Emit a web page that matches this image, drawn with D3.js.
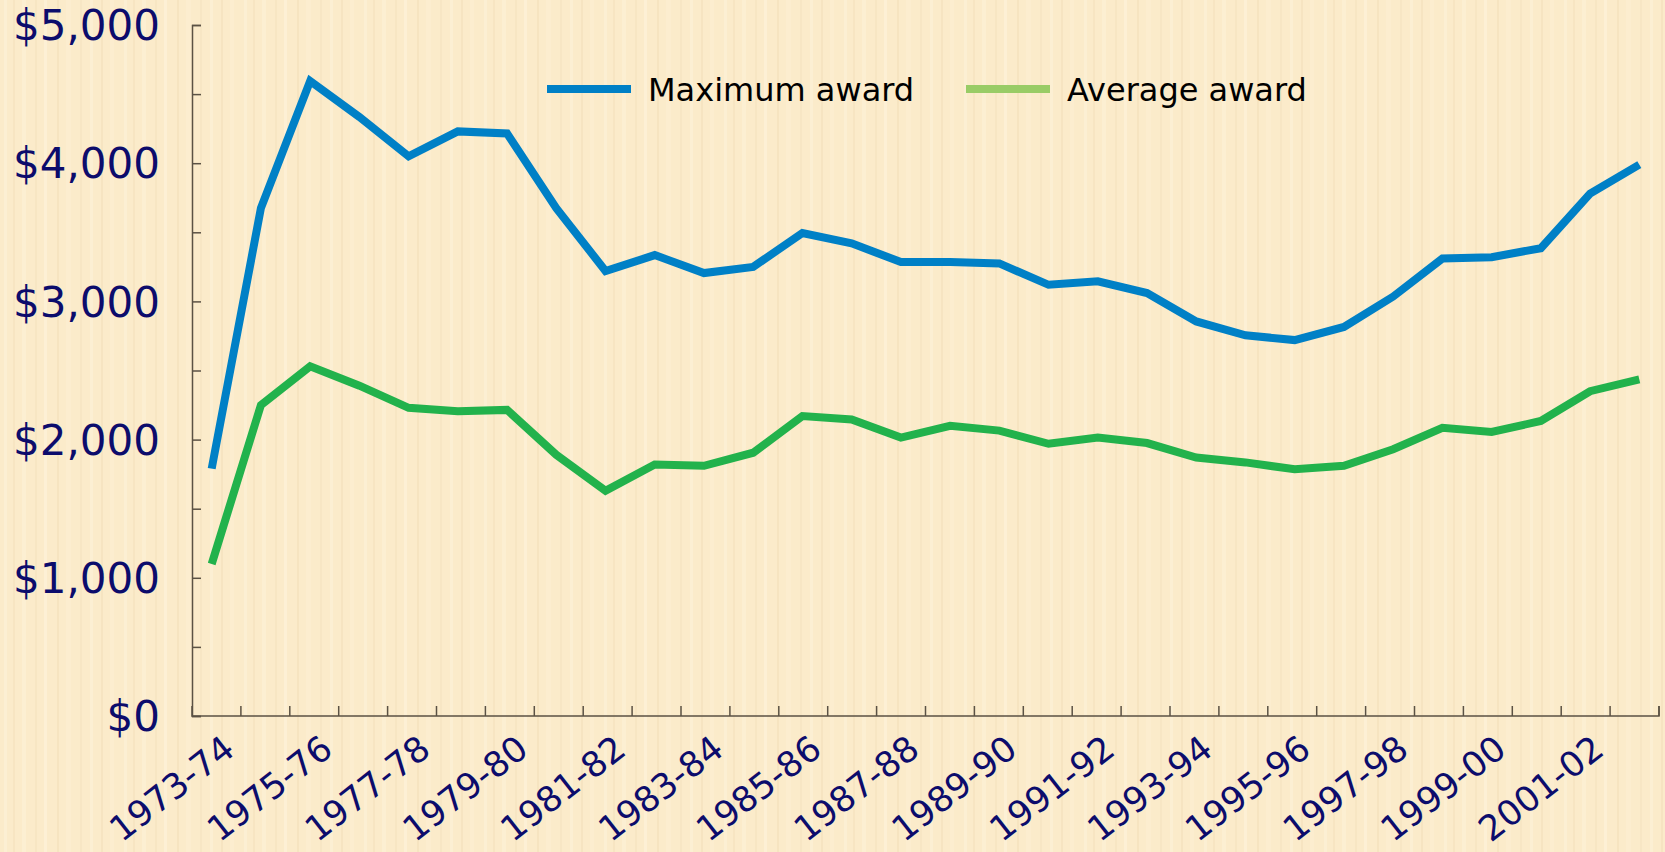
<!DOCTYPE html>
<html>
<head>
<meta charset="utf-8">
<script src="https://cdn.jsdelivr.net/npm/d3@7"></script>
<style>
  html, body { margin: 0; padding: 0; background: #fbebca; }
  svg { display: block; }
</style>
</head>
<body>
<div id="main"></div>
<script>
// data

const years = ['1973-74', '1974-75', '1975-76', '1976-77', '1977-78', '1978-79', '1979-80',
  '1980-81', '1981-82', '1982-83', '1983-84', '1984-85', '1985-86', '1986-87', '1987-88',
  '1988-89', '1989-90', '1990-91', '1991-92', '1992-93', '1993-94', '1994-95', '1995-96',
  '1996-97', '1997-98', '1998-99', '1999-00', '2000-01', '2001-02', '2002-03'];

const maxAward = [1790, 3675, 4595, 4335, 4050, 4230, 4215, 3675, 3220, 3335,
  3205, 3250, 3495, 3420, 3285, 3285, 3275, 3120, 3145, 3060,
  2855, 2755, 2720, 2815, 3035, 3310, 3320, 3385, 3780, 3990];

const avgAward = [1100, 2250, 2530, 2390, 2230, 2205, 2215, 1890, 1630, 1820,
  1810, 1905, 2170, 2145, 2015, 2100, 2065, 1970, 2015, 1975,
  1870, 1835, 1785, 1810, 1930, 2085, 2055, 2135, 2350, 2435];

const yTicks = [0, 1000, 2000, 3000, 4000, 5000];
const labelYears = years.filter((d, i) => i % 2 == 0 && i < 29);

const series = [
  { name: 'Maximum award', values: maxAward, color: '#0080c6', key: '#0080c6' },
  { name: 'Average award', values: avgAward, color: '#22b24c', key: '#99cc66' }
];

// SVG

const w = 1665;
const h = 852;
const padLeft = 192;
const padRight = 1659;
const padTop = 25;
const padBottom = 716;

const textColor = '#0c0c6c';
const axisColor = '#5b5244';

const svg = d3.select('#main')
  .append('svg')
  .attr('width', w)
  .attr('height', h);

// paper texture
const defs = svg.append('defs');
const pat = defs.append('pattern')
  .attr('id', 'paper')
  .attr('patternUnits', 'userSpaceOnUse')
  .attr('width', 120)
  .attr('height', 90);
pat.append('rect').attr('width', 120).attr('height', 90).attr('fill', '#fbebca');
const stripes = [[4, 3, '#fcefd3'], [13, 2, '#f7e5c2'], [22, 4, '#fcefd2'], [35, 2, '#f7e6c3'],
  [44, 3, '#fdf0d5'], [57, 2, '#f6e4c0'], [66, 5, '#fcedcf'], [80, 2, '#f7e6c4'],
  [90, 3, '#fcefd3'], [101, 2, '#f6e4c1'], [110, 4, '#fcedcf']];
stripes.forEach(s => {
  pat.append('rect').attr('x', s[0]).attr('y', 0).attr('width', s[1]).attr('height', 90).attr('fill', s[2]);
});
svg.append('rect').attr('width', w).attr('height', h).attr('fill', 'url(#paper)');

// scales

const x = d3.scalePoint()
  .domain(years)
  .range([padLeft, padRight])
  .padding(0.4);

const xBand = d3.scaleBand()
  .domain(years)
  .range([padLeft, padRight]);

const y = d3.scaleLinear()
  .domain([0, 5000])
  .range([padBottom, padTop]);

// axes

const yAxis = d3.axisRight(y)
  .tickValues(d3.range(0, 5001, 500))
  .tickSize(9)
  .tickFormat('');

svg.append('g')
  .attr('transform', `translate(${padLeft}, 0)`)
  .call(yAxis)
  .call(g => g.select('.domain').attr('stroke', axisColor).attr('stroke-width', 1.5))
  .call(g => g.selectAll('.tick line').attr('stroke', axisColor).attr('stroke-width', 1.5));

svg.append('g')
  .selectAll('text')
  .data(yTicks)
  .enter()
  .append('text')
  .attr('x', 160)
  .attr('y', d => y(d))
  .attr('dy', '0.36em')
  .attr('text-anchor', 'end')
  .style('font-family', 'DejaVu Sans, Verdana, sans-serif')
  .style('font-size', '42px')
  .attr('fill', textColor)
  .text(d => '$' + d3.format(',')(d));

const xAxis = d3.axisTop(xBand)
  .tickValues(years)
  .tickSize(10)
  .tickFormat('')
  .offset(0);

const xg = svg.append('g')
  .attr('transform', `translate(0, ${padBottom})`)
  .call(xAxis);
xg.select('.domain').attr('stroke', axisColor).attr('stroke-width', 1.5);
xg.selectAll('.tick')
  .attr('transform', d => `translate(${xBand(d) + xBand.bandwidth()}, 0)`);
xg.selectAll('.tick line').attr('stroke', axisColor).attr('stroke-width', 1.5);

svg.append('g')
  .selectAll('text')
  .data(labelYears)
  .enter()
  .append('text')
  .attr('transform', d => `translate(${xBand(d) + xBand.bandwidth() - 4}, ${padBottom + 37}) rotate(-38)`)
  .attr('text-anchor', 'end')
  .style('font-family', 'DejaVu Sans, Verdana, sans-serif')
  .style('font-size', '35px')
  .attr('fill', textColor)
  .text(d => d);

// lines

const line = d3.line()
  .x((d, i) => x(years[i]))
  .y(d => y(d));

svg.selectAll('.series')
  .data(series)
  .enter()
  .append('path')
  .attr('class', 'series')
  .attr('d', d => line(d.values))
  .attr('fill', 'none')
  .attr('stroke', d => d.color)
  .attr('stroke-width', 8)
  .attr('stroke-linejoin', 'miter');

// legend

const legend = svg.append('g')
  .attr('transform', 'translate(547, 89)');

const legendItems = legend.selectAll('g')
  .data(series)
  .enter()
  .append('g')
  .attr('transform', (d, i) => `translate(${i * 419}, 0)`);

legendItems.append('line')
  .attr('x1', 0)
  .attr('x2', 84)
  .attr('stroke', d => d.key)
  .attr('stroke-width', 8);

legendItems.append('text')
  .attr('x', 101)
  .attr('dy', '0.36em')
  .style('font-family', 'DejaVu Sans, Verdana, sans-serif')
  .style('font-size', '32px')
  .attr('fill', '#000')
  .text(d => d.name);
</script>
</body>
</html>
